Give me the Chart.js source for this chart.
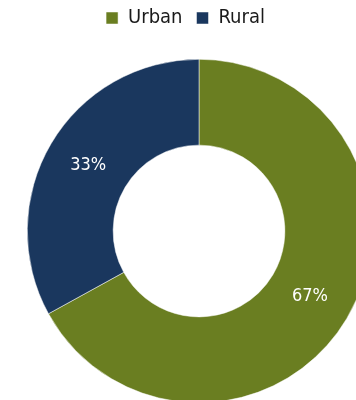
<!DOCTYPE html>
<html>
<head>
<meta charset="utf-8">
<script src="https://cdn.jsdelivr.net/npm/chart.js@4/dist/chart.umd.min.js"></script>
<style>
  html, body { margin: 0; padding: 0; background: #ffffff; overflow: hidden; }
  #wrap { position: absolute; left: 0; top: 0; width: 398px; height: 424px; }
</style>
</head>
<body>
<div id="wrap"><canvas id="chart"></canvas></div>
<script>
// Population split by area type (percent)
const categories = ['Urban', 'Rural'];
const shares = [67, 33];
const sliceColors = ['#6a7e21', '#1a375e'];

const FONT = '"DejaVu Sans Condensed", "DejaVu Sans", sans-serif';

// Writes each share as "NN%" in the middle of its ring segment
const sliceLabels = {
  id: 'sliceLabels',
  afterDatasetsDraw(chart) {
    const ctx = chart.ctx;
    const meta = chart.getDatasetMeta(0);
    ctx.save();
    ctx.fillStyle = '#ffffff';
    ctx.font = '18px ' + FONT;
    ctx.textAlign = 'center';
    ctx.textBaseline = 'middle';
    meta.data.forEach((arc, i) => {
      const p = arc.getCenterPoint();
      ctx.fillText(shares[i] + '%', p.x, p.y);
    });
    ctx.restore();
  }
};

// Centres the legend over the visible area rather than over the ring
const legendOffset = {
  id: 'legendOffset',
  afterLayout(chart) {
    chart.legend.left -= 13.5;
    chart.legend.right -= 13.5;
  }
};

new Chart(document.getElementById('chart'), {
  type: 'doughnut',
  data: {
    labels: categories,
    datasets: [{
      data: shares,
      backgroundColor: sliceColors,
      borderColor: '#ffffff',
      borderWidth: 0.5,
      clip: false
    }]
  },
  options: {
    responsive: true,
    maintainAspectRatio: false,
    animation: false,
    cutout: '50%',
    layout: { padding: { left: 27, right: 27, top: -6, bottom: 0 } },
    plugins: {
      legend: {
        position: 'top',
        labels: {
          boxWidth: 12,
          boxHeight: 12,
          padding: 14,
          color: '#1a1a1a',
          font: { family: FONT, size: 20 }
        }
      },
      tooltip: { enabled: false }
    }
  },
  plugins: [sliceLabels, legendOffset]
});
</script>
</body>
</html>
